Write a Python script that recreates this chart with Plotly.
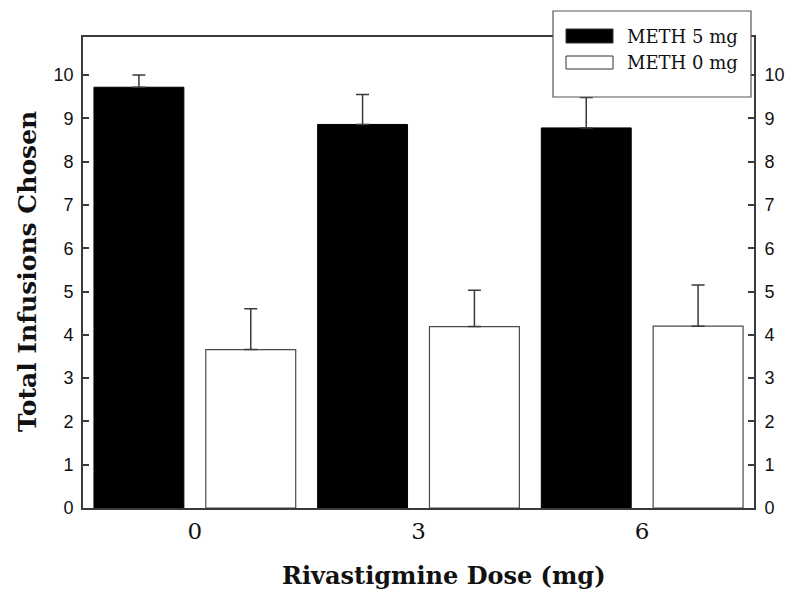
import plotly.graph_objects as go

doses = ["0", "3", "6"]
series_names = ["METH 5 mg", "METH 0 mg"]
meth5 = [9.72, 8.86, 8.78]
meth5_err = [0.28, 0.69, 0.70]
meth0 = [3.66, 4.19, 4.20]
meth0_err = [0.94, 0.84, 0.95]
y_ticks = list(range(0, 11))
x_title = "Rivastigmine Dose (mg)"
y_title = "Total Infusions Chosen"

AX = "#3a3a3a"
L, R, T, B = 83, 41, 37, 92
W, H = 795, 600
pw, ph = W - L - R, H - T - B

def px_x(x):
    return (x - L) / pw

def px_y(y):
    return (H - B - y) / ph

fig = go.Figure()
fig.add_trace(go.Bar(
    x=doses, y=meth5, name=series_names[0],
    marker=dict(color="black", line=dict(color="black", width=1)),
    error_y=dict(type="data", array=meth5_err, arrayminus=[0] * len(meth5),
                 symmetric=False, color=AX, thickness=1.5, width=6.5),
))
fig.add_trace(go.Bar(
    x=doses, y=meth0, name=series_names[1],
    marker=dict(color="white", line=dict(color="#4a4a4a", width=1.2)),
    error_y=dict(type="data", array=meth0_err, arrayminus=[0] * len(meth0),
                 symmetric=False, color=AX, thickness=1.5, width=6.5),
))
# invisible trace to activate the right-hand axis
fig.add_trace(go.Scatter(x=doses, y=meth5, yaxis="y2", mode="markers",
                         marker=dict(opacity=0), showlegend=False, hoverinfo="skip"))

tickfont = dict(family="Liberation Sans, Arial, sans-serif", size=18, color="#111111")
yrange = [0, 10.88]
fig.update_layout(
    width=W, height=H,
    margin=dict(l=L, r=R, t=T, b=B, pad=0, autoexpand=False),
    paper_bgcolor="white", plot_bgcolor="white",
    barmode="group", bargap=0, bargroupgap=0.196,
    showlegend=False,
    xaxis=dict(type="category", range=[-0.5, 2.5], showline=True, linecolor=AX, linewidth=1.8,
               mirror=True, ticks="", showgrid=False, zeroline=False, automargin=False,
               tickfont=dict(family="DejaVu Serif, serif", size=23, color="#111111"),
               ticklabelstandoff=1),
    yaxis=dict(range=yrange, tickvals=y_ticks, showline=True, linecolor=AX, linewidth=1.8,
               ticks="inside", ticklen=6, tickwidth=1.5, tickcolor=AX, showgrid=False,
               zeroline=False, tickfont=tickfont, ticklabelstandoff=4, automargin=False),
    yaxis2=dict(range=yrange, tickvals=y_ticks, overlaying="y", side="right", showline=True,
                linecolor=AX, linewidth=1.8, ticks="inside", ticklen=6, tickwidth=1.5,
                tickcolor=AX, showgrid=False, zeroline=False, tickfont=tickfont,
                ticklabelstandoff=5, automargin=False),
)

fig.add_annotation(text="<b>%s</b>" % x_title, xref="paper", yref="paper",
                   x=px_x(443), y=px_y(575), xanchor="center", yanchor="middle",
                   showarrow=False,
                   font=dict(family="DejaVu Serif, serif", size=24, color="#111111"))
fig.add_annotation(text="<b>%s</b>" % y_title, xref="paper", yref="paper",
                   x=px_x(27), y=px_y(272), xanchor="center", yanchor="middle",
                   textangle=-90, showarrow=False,
                   font=dict(family="DejaVu Serif, serif", size=25, color="#111111"))

# legend box drawn manually (wide swatches)
fig.add_shape(type="rect", xref="paper", yref="paper",
              x0=px_x(553), x1=px_x(751), y0=px_y(97), y1=px_y(11),
              fillcolor="white", line=dict(color="#555555", width=1.2), layer="above")
swatch_fill = ["black", "white"]
swatch_rows = [(29, 43), (56, 69)]
for name, fill, (ya, yb) in zip(series_names, swatch_fill, swatch_rows):
    fig.add_shape(type="rect", xref="paper", yref="paper",
                  x0=px_x(566), x1=px_x(613), y0=px_y(yb), y1=px_y(ya),
                  fillcolor=fill, line=dict(color="#333333", width=1), layer="above")
    fig.add_annotation(text=name, xref="paper", yref="paper",
                       x=px_x(625), y=px_y((ya + yb) / 2), xanchor="left", yanchor="middle",
                       showarrow=False,
                       font=dict(family="DejaVu Serif, serif", size=18, color="#111111"))

fig.write_html("out.html", config={"displayModeBar": False},
               post_script="document.body.style.margin='0';")
